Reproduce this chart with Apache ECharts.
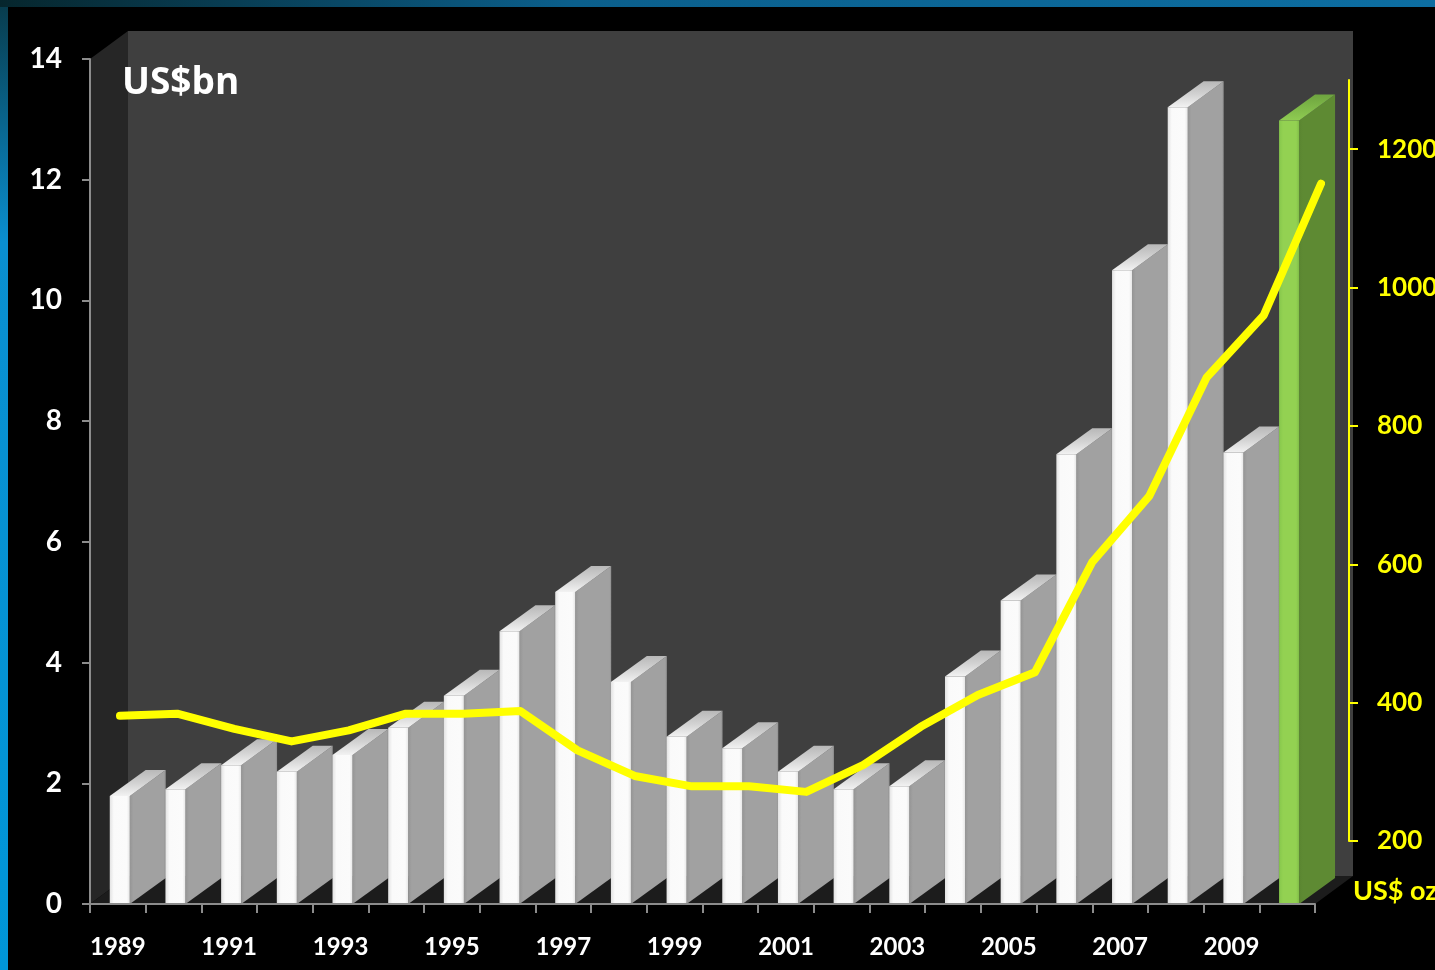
<!DOCTYPE html>
<html>
<head>
<meta charset="utf-8">
<script src="https://cdn.jsdelivr.net/npm/echarts@6/dist/echarts.min.js"></script>
<style>
  html, body { margin: 0; padding: 0; }
  body {
    width: 1435px; height: 970px; overflow: hidden;
    background:
      linear-gradient(to right, #06262d, #0b5f8c 40%, #0d6ea2) top left / 100% 7px no-repeat,
      linear-gradient(to bottom, #083a4a, #0a8fd0 25%, #0096d8) top left / 8px 100% no-repeat,
      #000;
  }
  #chart { width: 1435px; height: 970px; }
</style>
</head>
<body>
<div id="chart"></div>
<script>
// ---- data ----
const years = ['1989','1990','1991','1992','1993','1994','1995','1996','1997','1998','1999',
               '2000','2001','2002','2003','2004','2005','2006','2007','2008','2009','2010'];
const spendBn = [1.79, 1.90, 2.30, 2.19, 2.47, 2.92, 3.45, 4.52, 5.17, 3.68, 2.77,
                 2.58, 2.19, 1.90, 1.95, 3.77, 5.03, 7.45, 10.5, 13.2, 7.48, 12.98];
const goldPrice = [381, 384, 362, 344, 360, 384, 384, 388, 331, 294, 279,
                   279, 271, 310, 365, 411, 444, 603, 699, 870, 960, 1150];
const leftTicks = [0, 2, 4, 6, 8, 10, 12, 14];
const rightTicks = [200, 400, 600, 800, 1000, 1200];
const highlightIndex = 21;

// ---- 3D depth (pixels) ----
const BOX_DX = 38, BOX_DY = -28;
const BAR_DY = -26;

function renderWalls(params, api) {
  const bw = api.size([1, 0])[0];
  const p0 = api.coord([0, 0]);
  const pN = api.coord([years.length - 1, 0]);
  const pt = api.coord([0, leftTicks[leftTicks.length - 1]]);
  const x0 = p0[0] - bw / 2, x1 = pN[0] + bw / 2, yb = p0[1], yt = pt[1];
  return {
    type: 'group',
    children: [
      { type: 'rect', shape: { x: x0 + BOX_DX, y: yt + BOX_DY, width: x1 - x0, height: yb - yt },
        style: { fill: '#3f3f3f' } },
      { type: 'polygon', shape: { points: [[x0, yt], [x0 + BOX_DX, yt + BOX_DY], [x0 + BOX_DX, yb + BOX_DY], [x0, yb]] },
        style: { fill: '#262626' } },
      { type: 'polygon', shape: { points: [[x0, yb], [x0 + BOX_DX, yb + BOX_DY], [x1 + BOX_DX, yb + BOX_DY], [x1, yb]] },
        style: { fill: '#1c1c1c' } }
    ]
  };
}

function renderBar(params, api) {
  const idx = api.value(0), v = api.value(1);
  const base = api.coord([idx, 0]);
  const top = api.coord([idx, v]);
  const bw = api.size([1, 0])[0];
  const fw = bw * 0.36;
  const xl = base[0] - bw * 0.145;
  const xr = xl + fw;
  const dx = bw * 0.645;
  const yb = base[1], yt = top[1];
  const green = idx === highlightIndex;
  const front = green
    ? { type: 'linear', x: 0, y: 0, x2: 1, y2: 0, colorStops: [{ offset: 0, color: '#86c74c' }, { offset: 0.2, color: '#93d152' }, { offset: 0.85, color: '#93d152' }, { offset: 1, color: '#80bd48' }] }
    : { type: 'linear', x: 0, y: 0, x2: 1, y2: 0, colorStops: [{ offset: 0, color: '#e2e2e2' }, { offset: 0.2, color: '#fafafa' }, { offset: 0.85, color: '#fbfbfb' }, { offset: 1, color: '#e6e6e6' }] };
  const side = green
    ? { type: 'linear', x: 0, y: 0, x2: 1, y2: 0, colorStops: [{ offset: 0, color: '#5a8531' }, { offset: 0.1, color: '#5e8a33' }, { offset: 1, color: '#5e8a33' }] }
    : { type: 'linear', x: 0, y: 0, x2: 1, y2: 0, colorStops: [{ offset: 0, color: '#959595' }, { offset: 0.1, color: '#a1a1a1' }, { offset: 0.95, color: '#a1a1a1' }, { offset: 1, color: '#8f8f8f' }] };
  const topFill = green
    ? { type: 'linear', x: 0, y: 1, x2: 0, y2: 0, colorStops: [{ offset: 0, color: '#8fcc52' }, { offset: 1, color: '#6ea43f' }] }
    : { type: 'linear', x: 0, y: 1, x2: 0, y2: 0, colorStops: [{ offset: 0, color: '#f2f2f2' }, { offset: 0.5, color: '#d2d2d2' }, { offset: 1, color: '#b8b8b8' }] };
  return {
    type: 'group',
    children: [
      { type: 'polygon', shape: { points: [[xr, yb], [xr, yt], [xr + dx, yt + BAR_DY], [xr + dx, yb + BAR_DY]] },
        style: { fill: side } },
      { type: 'polygon', shape: { points: [[xl, yt], [xr, yt], [xr + dx, yt + BAR_DY], [xl + dx, yt + BAR_DY]] },
        style: { fill: topFill } },
      { type: 'rect', shape: { x: xl, y: yt, width: fw, height: yb - yt },
        style: { fill: front } }
    ]
  };
}

const chart = echarts.init(document.getElementById('chart'), null, { renderer: 'canvas' });
const numFont = 'Lato';

chart.setOption({
  backgroundColor: 'transparent',
  animation: false,
  title: [
    { text: 'US$bn', left: 122, top: 65, padding: 0,
      textStyle: { color: '#ffffff', fontFamily: 'Open Sans', fontWeight: 'bold', fontSize: 37 } },
    { text: 'US$ oz', left: 1353, top: 878, padding: 0,
      textStyle: { color: '#ffff00', fontFamily: numFont, fontWeight: 'bold', fontSize: 27 } }
  ],
  grid: [
    { left: 90, right: 120, top: 59, bottom: 66, containLabel: false, outerBoundsMode: 'none' },
    { left: 120, right: 114, top: 80, bottom: 129, containLabel: false, outerBoundsMode: 'none' }
  ],
  xAxis: [
    { type: 'category', gridIndex: 0, data: years, boundaryGap: true,
      axisLine: { show: true, lineStyle: { color: '#8c8c8c', width: 2 } },
      axisTick: { show: true, interval: 0, length: 9, lineStyle: { color: '#8c8c8c', width: 2 } },
      axisLabel: { interval: 1, color: '#ffffff', fontFamily: numFont, fontWeight: 'bold', fontSize: 24, margin: 31 },
      splitLine: { show: false }, z: 5 },
    { type: 'category', gridIndex: 1, data: years, boundaryGap: false, show: false }
  ],
  yAxis: [
    { type: 'value', gridIndex: 0, min: 0, max: 14, interval: 2,
      axisLine: { show: true, lineStyle: { color: '#8c8c8c', width: 2 } },
      axisTick: { show: true, length: 8, lineStyle: { color: '#8c8c8c', width: 2 } },
      axisLabel: { color: '#ffffff', fontFamily: numFont, fontWeight: 'bold', fontSize: 28, margin: 28,
        customValues: leftTicks },
      splitLine: { show: false }, z: 5 },
    { type: 'value', gridIndex: 1, min: 200, max: 1300, position: 'right', offset: 28,
      axisLine: { show: true, lineStyle: { color: '#ffff00', width: 2 } },
      axisTick: { show: true, length: 9, customValues: rightTicks, lineStyle: { color: '#ffff00', width: 2 } },
      axisLabel: { color: '#ffff00', fontFamily: numFont, fontWeight: 'bold', fontSize: 26, margin: 28,
        customValues: rightTicks, formatter: (v) => String(v) },
      splitLine: { show: false } }
  ],
  series: [
    { type: 'custom', name: 'walls', xAxisIndex: 0, yAxisIndex: 0, z: 0, silent: true,
      renderItem: renderWalls, data: [[0, 0]] },
    { type: 'custom', name: 'Spend', xAxisIndex: 0, yAxisIndex: 0, z: 2,
      renderItem: renderBar, encode: { x: 0, y: 1 },
      data: spendBn.map((v, i) => [i, v]) },
    { type: 'line', name: 'Gold price', xAxisIndex: 1, yAxisIndex: 1, z: 10,
      data: goldPrice, showSymbol: false, symbol: 'none', smooth: false,
      lineStyle: { color: '#ffff00', width: 8, cap: 'round', join: 'round' } }
  ]
});
</script>
</body>
</html>
